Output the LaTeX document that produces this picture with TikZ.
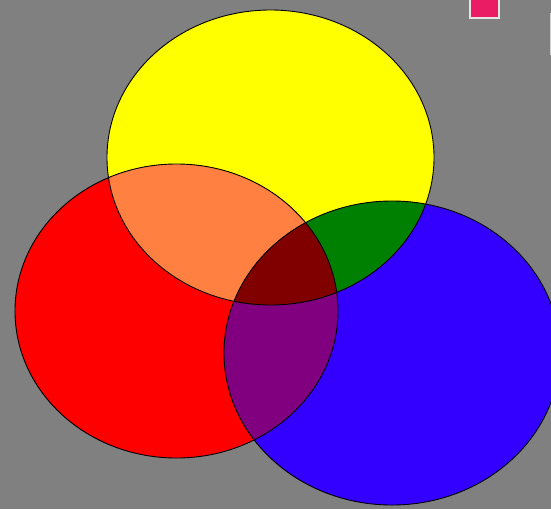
\documentclass[tikz,border=0pt]{standalone}
\usepackage{tikz}
\definecolor{bggray}{RGB}{128,128,128}
\definecolor{cyellow}{RGB}{255,255,0}
\definecolor{cred}{RGB}{255,0,0}
\definecolor{cblue}{RGB}{51,0,255}
\definecolor{corange}{RGB}{255,128,64}
\definecolor{cgreen}{RGB}{0,128,0}
\definecolor{cdarkred}{RGB}{128,0,0}
\definecolor{cpurple}{RGB}{128,0,128}
\definecolor{cpink}{RGB}{234,28,100}
\definecolor{cframe}{RGB}{228,228,228}
\tikzset{
  outline/.style={draw=black, line width=0.9pt},
}
\def\yel{(270.5,157.5) ellipse [x radius=163.5, y radius=147.5]}
\def\red{(176.5,311) ellipse [x radius=161.5, y radius=147]}
\def\blu{(392,353) ellipse [x radius=168, y radius=152]}
\begin{document}
\begin{tikzpicture}[x=1pt,y=-1pt]
  \useasboundingbox (0,0) rectangle (551,509);
  \fill[bggray] (0,0) rectangle (551,509);
  \begin{scope}
    \clip (0,0) rectangle (551,509);
    % base fills
    \fill[cyellow] \yel;
    \fill[cred] \red;
    \fill[cblue] \blu;
    % yellow & red
    \begin{scope}
      \clip \yel;
      \fill[corange] \red;
    \end{scope}
    % yellow & blue
    \begin{scope}
      \clip \yel;
      \fill[cgreen] \blu;
    \end{scope}
    % red & blue
    \begin{scope}
      \clip \red;
      \fill[cpurple] \blu;
    \end{scope}
    % all three
    \begin{scope}
      \clip \yel;
      \clip \red;
      \fill[cdarkred] \blu;
    \end{scope}
    % outlines
    \draw[outline] \yel;
    \draw[outline] \red;
    \draw[outline] \blu;
    % small square at top right
    \fill[cpink] (470,-5) rectangle (499,18);
    \draw[cframe, line width=2pt] (470,-5) -- (470,18) -- (499,18) -- (499,-5);
    \draw[cframe!80!bggray, line width=1pt] (550,13) -- (550,55);
  \end{scope}
\end{tikzpicture}
\end{document}
